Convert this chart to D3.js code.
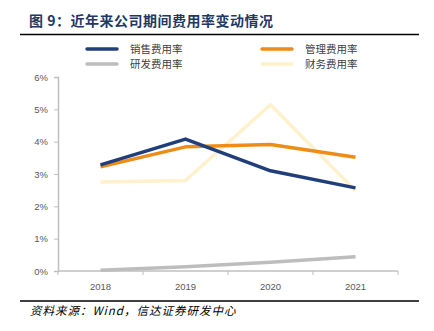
<!DOCTYPE html>
<html lang="zh">
<head>
<meta charset="UTF-8">
<title>近年来公司期间费用率变动情况</title>
<script src="https://d3js.org/d3.v7.min.js"></script>
<style>
  body { margin: 0; background: #fff; font-family: "Noto Sans CJK SC", "Noto Sans", sans-serif; }
  .tick text { font-family: "Liberation Sans", Arial, sans-serif; font-size: 9.5px; fill: #595959; }
</style>
</head>
<body>
<div id="chart"></div>
<script>
  // 年份与四项费用率（%）
  const years = ["2018", "2019", "2020", "2021"];
  const sales = [3.28, 4.08, 3.10, 2.57];
  const admin = [3.22, 3.84, 3.91, 3.52];
  const rnd = [0.02, 0.13, 0.27, 0.44];
  const finance = [2.75, 2.80, 5.14, 2.48];
  const yTicks = [0, 1, 2, 3, 4, 5, 6];

  const series = [
    { name: "销售费用率", values: sales, color: "#203f7a" },
    { name: "管理费用率", values: admin, color: "#ef8c17" },
    { name: "研发费用率", values: rnd, color: "#bdbdbd" },
    { name: "财务费用率", values: finance, color: "#fff1cc" }
  ];

  const width = 434, height = 331;
  const svg = d3.select("#chart").append("svg")
    .attr("width", width).attr("height", height);

  // 标题与上下分隔线
  svg.append("text")
    .attr("x", 29).attr("y", 26)
    .attr("font-size", 14).attr("font-weight", "bold")
    .attr("letter-spacing", 0.5)
    .attr("fill", "#1f3864")
    .text("图 9：近年来公司期间费用率变动情况");
  svg.append("line").attr("x1", 20).attr("x2", 419).attr("y1", 34.5).attr("y2", 34.5)
    .attr("stroke", "#000").attr("stroke-width", 1.6);
  svg.append("line").attr("x1", 20).attr("x2", 419).attr("y1", 301).attr("y2", 301)
    .attr("stroke", "#000").attr("stroke-width", 1.6);
  svg.append("text")
    .attr("x", 30).attr("y", 315)
    .attr("font-size", 11.5).attr("font-style", "italic").attr("fill", "#000")
    .attr("letter-spacing", 1)
    .text("资料来源：Wind，信达证券研发中心");

  // 图例
  const legend = svg.append("g");
  series.forEach((s, i) => {
    const lx = i % 2 === 0 ? 87 : 262;
    const ly = i < 2 ? 49 : 64;
    legend.append("line").attr("x1", lx).attr("x2", lx + 30).attr("y1", ly).attr("y2", ly)
      .attr("stroke", s.color).attr("stroke-width", 3.5).attr("stroke-linecap", "round");
    legend.append("text").attr("x", lx + 43).attr("y", ly + 4)
      .attr("font-size", 10.5).attr("fill", "#404040").text(s.name);
  });

  const x = d3.scaleBand().domain(years).range([58, 398]);
  const y = d3.scaleLinear().domain([0, 6]).range([271, 77]);

  const yAxis = svg.append("g").attr("transform", "translate(58,0)")
    .call(d3.axisLeft(y).tickValues(yTicks).tickFormat(d => d + "%").tickSize(4).tickPadding(6));
  const xAxis = svg.append("g").attr("transform", "translate(0,271)")
    .call(d3.axisBottom(x).tickSize(0).tickPadding(12));

  // x 轴分类分隔刻度
  xAxis.selectAll(".sep").data(years.map(d => x(d)).concat([x.range()[1]]))
    .enter().append("line").attr("class", "sep")
    .attr("x1", d => d).attr("x2", d => d).attr("y1", 0).attr("y2", 4);

  [yAxis, xAxis].forEach(g => {
    g.selectAll(".domain").attr("stroke", "#bfbfbf").attr("stroke-width", 1.5);
    g.selectAll("line").attr("stroke", "#bfbfbf");
  });
  xAxis.selectAll(".domain").attr("d", `M58,0H398`);

  const line = d3.line()
    .x((d, i) => x(years[i]) + x.bandwidth() / 2)
    .y(d => y(d));

  // 先画浅色与灰色，再画主线
  [series[2], series[3], series[1], series[0]].forEach(s => {
    svg.append("path").datum(s.values)
      .attr("fill", "none").attr("stroke", s.color)
      .attr("stroke-width", 3.5).attr("stroke-linejoin", "round")
      .attr("d", line);
  });
</script>
</body>
</html>
